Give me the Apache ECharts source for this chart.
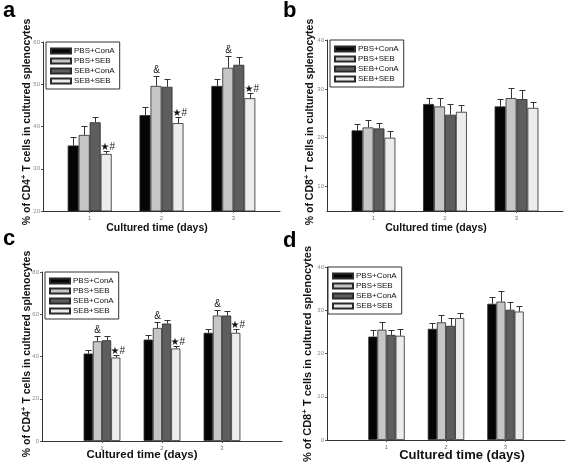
<!DOCTYPE html>
<html><head><meta charset="utf-8">
<script src="https://cdn.jsdelivr.net/npm/echarts@6/dist/echarts.min.js"></script>
<style>html,body{margin:0;padding:0;background:#fff}#c{width:567px;height:468px}</style>
</head><body><div id="c"></div>
<script>
// ---- data ----
const days = [1, 2, 3];
const groupNames = ['PBS+ConA', 'PBS+SEB', 'SEB+ConA', 'SEB+SEB'];
const tickA = [20, 30, 40, 50, 60];
const tickB = [10, 20, 30, 40];
const tickC = [0, 20, 40, 60, 80];
const tickD = [0, 10, 20, 30, 40];

// panel a: % CD4+ T cells
const aPbsConA = [35.5, 42.7, 49.6];
const aPbsSeb  = [38.0, 49.6, 53.9];
const aSebConA = [41.0, 49.4, 54.6];
const aSebSeb  = [33.5, 40.8, 46.7];
const aErrPbsConA = [1.9, 2.0, 1.7];
const aErrPbsSeb  = [2.2, 2.4, 2.9];
const aErrSebConA = [1.2, 1.8, 1.9];
const aErrSebSeb  = [0.7, 1.4, 1.2];
const aMarkPbsSeb = ['', '&', '&'];
const aMarkSebSeb = ['*#', '*#', '*#'];

// panel b: % CD8+ T cells
const bPbsConA = [21.5, 26.9, 26.4];
const bPbsSeb  = [22.1, 26.4, 28.1];
const bSebConA = [21.9, 24.7, 27.9];
const bSebSeb  = [20.0, 25.3, 26.1];
const bErrPbsConA = [1.4, 1.3, 1.5];
const bErrPbsSeb  = [1.6, 1.8, 2.0];
const bErrSebConA = [1.1, 2.1, 1.8];
const bErrSebSeb  = [1.3, 1.3, 1.3];

// panel c: % CD4+ T cells
const cPbsConA = [41.4, 48.0, 51.2];
const cPbsSeb  = [47.2, 53.5, 59.4];
const cSebConA = [47.7, 55.6, 59.4];
const cSebSeb  = [39.5, 43.8, 51.2];
const cErrPbsConA = [1.9, 2.4, 1.9];
const cErrPbsSeb  = [2.4, 2.6, 2.5];
const cErrSebConA = [2.2, 1.9, 2.2];
const cErrSebSeb  = [1.3, 1.4, 2.0];
const cMarkPbsSeb = ['&', '&', '&'];
const cMarkSebSeb = ['*#', '*#', '*#'];

// panel d: % CD8+ T cells
const dPbsConA = [23.9, 25.7, 31.5];
const dPbsSeb  = [25.5, 27.2, 32.0];
const dSebConA = [24.3, 26.4, 30.1];
const dSebSeb  = [24.1, 28.2, 29.7];
const dErrPbsConA = [1.6, 1.3, 1.5];
const dErrPbsSeb  = [1.7, 1.6, 2.5];
const dErrSebConA = [1.2, 1.8, 1.8];
const dErrSebSeb  = [1.5, 1.1, 1.3];

const none = ['', '', ''];

// ---- styling / layout ----
const FONT = 'Liberation Sans, Arial, sans-serif';
const colors = ['#050505', '#c6c6c6', '#5e5e5e', '#ececec'];
const BAR_FRAC = 0.153;

const panels = [
  { means: [aPbsConA, aPbsSeb, aSebConA, aSebSeb], errs: [aErrPbsConA, aErrPbsSeb, aErrSebConA, aErrSebSeb],
    marks: [none, aMarkPbsSeb, none, aMarkSebSeb], ticks: tickA, yMin: 20, yMax: 60, xMin: 0.35, xMax: 3.65,
    grid: { left: 43, top: 42, width: 237, height: 169 }, legend: { left: 46, top: 42 } },
  { means: [bPbsConA, bPbsSeb, bSebConA, bSebSeb], errs: [bErrPbsConA, bErrPbsSeb, bErrSebConA, bErrSebSeb],
    marks: [none, none, none, none], ticks: tickB, yMin: 5, yMax: 40, xMin: 0.35, xMax: 3.65,
    grid: { left: 327, top: 40, width: 236, height: 171 }, legend: { left: 330, top: 40 } },
  { means: [cPbsConA, cPbsSeb, cSebConA, cSebSeb], errs: [cErrPbsConA, cErrPbsSeb, cErrSebConA, cErrSebSeb],
    marks: [none, cMarkPbsSeb, none, cMarkSebSeb], ticks: tickC, yMin: 0, yMax: 80, xMin: 0, xMax: 4,
    grid: { left: 42, top: 272, width: 240, height: 169 }, legend: { left: 45, top: 272 } },
  { means: [dPbsConA, dPbsSeb, dSebConA, dSebSeb], errs: [dErrPbsConA, dErrPbsSeb, dErrSebConA, dErrSebSeb],
    marks: [none, none, none, none], ticks: tickD, yMin: 0, yMax: 40, xMin: 0, xMax: 4,
    grid: { left: 327, top: 267, width: 238, height: 173 }, legend: { left: 328, top: 267 } }
];

const grids = [], xAxes = [], yAxes = [], series = [], legends = [];
panels.forEach((p, pi) => {
  grids.push(Object.assign({}, p.grid));
  xAxes.push({
    type: 'value', gridIndex: pi, min: p.xMin, max: p.xMax,
    axisLine: { show: true, lineStyle: { color: '#333', width: 1 } },
    axisTick: { show: true, length: 2, customValues: days, lineStyle: { color: '#555' } },
    axisLabel: { customValues: days, fontSize: 6, color: '#777', margin: 4, fontFamily: FONT },
    splitLine: { show: false }
  });
  yAxes.push({
    type: 'value', gridIndex: pi, min: p.yMin, max: p.yMax,
    axisLine: { show: true, lineStyle: { color: '#333', width: 1 } },
    axisTick: { show: true, length: 2, customValues: p.ticks, lineStyle: { color: '#555' } },
    axisLabel: { customValues: p.ticks, fontSize: 6, color: '#888', margin: 3, fontFamily: FONT },
    splitLine: { show: false }
  });
  legends.push({
    left: p.legend.left, top: p.legend.top, orient: 'vertical',
    data: groupNames, icon: 'rect', itemWidth: 20, itemHeight: 5, itemGap: 0,
    padding: [4, 5, 3, 4], borderColor: '#333', borderWidth: 1, backgroundColor: '#fff',
    textStyle: { fontSize: 8, fontFamily: FONT, color: '#111', lineHeight: 10, padding: [0, 0, 0, -2] },
    selectedMode: false
  });
  const errData = [], errMarks = [];
  p.means.forEach((vals, si) => {
    series.push({
      type: 'bar', name: groupNames[si], xAxisIndex: pi, yAxisIndex: pi,
      barWidth: (BAR_FRAC * 100) + '%', barGap: '0%',
      itemStyle: { color: colors[si], borderColor: '#2a2a2a', borderWidth: 0.8 },
      data: days.map((d, k) => [d, vals[k]]),
      z: 2, animation: false
    });
    days.forEach((d, k) => {
      errData.push([d, si, vals[k], p.errs[si][k]]);
      errMarks.push(p.marks[si][k]);
    });
  });
  series.push({
    type: 'custom', xAxisIndex: pi, yAxisIndex: pi, z: 5, animation: false, silent: true,
    data: errData,
    renderItem: function (params, api) {
      const x = api.value(0), si = api.value(1), m = api.value(2), e = api.value(3);
      const unit = api.size([1, 0])[0];
      const off = (si - 1.5) * BAR_FRAC * unit;
      const p0 = api.coord([x, m]);
      const p1 = api.coord([x, m + e]);
      const cx = Math.round(p0[0] + off) + 0.5;
      const ty = Math.round(p1[1]) + 0.5;
      const children = [
        { type: 'line', shape: { x1: cx, y1: p0[1], x2: cx, y2: ty }, style: { stroke: '#333', lineWidth: 1 } },
        { type: 'line', shape: { x1: cx - 3, y1: ty, x2: cx + 3, y2: ty }, style: { stroke: '#333', lineWidth: 1 } }
      ];
      const mk = errMarks[params.dataIndex];
      if (mk === '&') {
        children.push({ type: 'text', x: cx, y: ty - 1,
          style: { text: '&', fontSize: 10, fontFamily: FONT, fill: '#222', align: 'center', verticalAlign: 'bottom' } });
      } else if (mk === '*#') {
        children.push({ type: 'text', x: cx - 6, y: ty + 1,
          style: { text: '{s|\u2605}{h|#}', align: 'left', verticalAlign: 'bottom',
            rich: { s: { fontSize: 10, fontFamily: 'DejaVu Sans', fill: '#111' },
                    h: { fontSize: 10, fontFamily: FONT, fill: '#222' } } } });
      }
      return { type: 'group', children: children };
    }
  });
});

function yTitle(x, y, cd, size) {
  return { type: 'text', x: x, y: y, rotation: Math.PI / 2,
    style: { text: '% of ' + cd + '{s|+} T cells in cultured splenocytes', align: 'center', verticalAlign: 'middle',
      fontSize: size, fontWeight: 'bold', fontFamily: FONT, fill: '#111',
      rich: { s: { fontSize: 8, fontWeight: 'bold', fontFamily: FONT, fill: '#111', verticalAlign: 'top', padding: [0, 0, 6, 0] } } } };
}
function xTitle(x, y, size) {
  return { type: 'text', x: x, y: y,
    style: { text: 'Cultured time (days)', align: 'center', verticalAlign: 'middle',
      fontSize: size, fontWeight: 'bold', fontFamily: FONT, fill: '#111' } };
}
function letter(x, y, t) {
  return { type: 'text', x: x, y: y, style: { text: t, fontSize: 22, fontWeight: 'bold', fontFamily: FONT, fill: '#000' } };
}

const chart = echarts.init(document.getElementById('c'), null, { renderer: 'canvas' });
chart.setOption({
  animation: false,
  backgroundColor: '#fff',
  grid: grids, xAxis: xAxes, yAxis: yAxes, legend: legends, series: series,
  graphic: [
    letter(3, 0, 'a'), letter(283, 0, 'b'), letter(3, 228, 'c'), letter(283, 230, 'd'),
    yTitle(27, 122, 'CD4', 10.5), yTitle(310, 122, 'CD8', 10.5), yTitle(27, 354, 'CD4', 10.5), yTitle(308, 354, 'CD8', 11),
    xTitle(157, 228, 10.5), xTitle(436, 228, 10.5), xTitle(142, 455, 11.5), xTitle(462, 455, 13)
  ]
});
</script></body></html>
